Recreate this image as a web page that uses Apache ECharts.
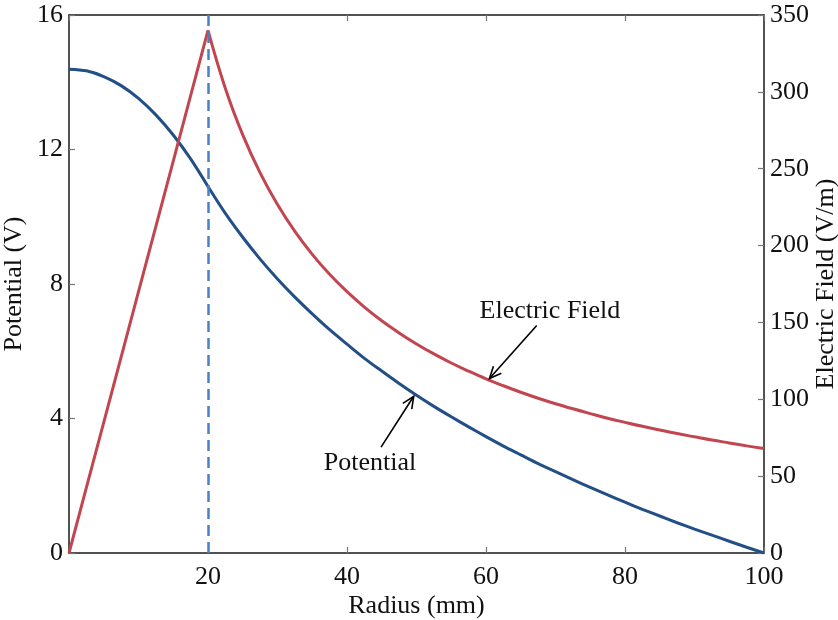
<!DOCTYPE html>
<html>
<head>
<meta charset="utf-8">
<script src="https://cdn.jsdelivr.net/npm/echarts@6/dist/echarts.min.js"></script>
<style>
  html, body { margin: 0; padding: 0; background: #fff; }
  #chart { width: 838px; height: 620px; }
</style>
</head>
<body>
<div id="chart"></div>
<script>
// Radius samples (mm)
const radius = [0, 2.5, 5, 7.5, 10, 12.5, 15, 17.5, 20, 22.5, 25, 27.5, 30, 32.5, 35, 37.5,
  40, 42.5, 45, 47.5, 50, 52.5, 55, 57.5, 60, 62.5, 65, 67.5, 70, 72.5, 75, 77.5,
  80, 82.5, 85, 87.5, 90, 92.5, 95, 97.5, 100];

// Potential (V)
const potential = [14.39, 14.34, 14.17, 13.90, 13.52, 13.03, 12.43, 11.72, 10.90, 10.10,
  9.39, 8.74, 8.15, 7.61, 7.11, 6.64, 6.21, 5.79, 5.41, 5.04, 4.69, 4.36, 4.05, 3.75,
  3.46, 3.18, 2.92, 2.66, 2.42, 2.18, 1.95, 1.73, 1.51, 1.30, 1.10, 0.90, 0.71, 0.53,
  0.35, 0.17, 0];

// Electric field (V/m)
const field = [0, 42.5, 85, 127.5, 170, 212.5, 255, 297.5, 340, 302.2, 272, 247.3, 226.7,
  209.2, 194.3, 181.3, 170, 160, 151.1, 143.2, 136, 129.5, 123.6, 118.3, 113.3, 108.8,
  104.6, 100.7, 97.1, 93.8, 90.7, 87.7, 85, 82.4, 80, 77.7, 75.6, 73.5, 71.6, 69.7, 68];

// Conductor boundary (mm)
const boundaryRadius = 20;

// Annotation labels: text anchor, arrow start and arrow tip in data units
const annotations = [
  { text: 'Electric Field', yAxis: 1, textAt: [69.2, 157.5], from: [67.3, 148], to: [60.5, 113.5] },
  { text: 'Potential', yAxis: 0, textAt: [43.3, 2.68], from: [44.9, 3.15], to: [49.6, 4.66] }
];

const FONT = '"Liberation Serif", "DejaVu Serif", serif';
const FS = 26;
const TXT = '#111';
const SPINE = '#1a1a1a';
const TICK = '#777';
const BLUE = '#234f87';
const RED = '#c1464f';

const chart = echarts.init(document.getElementById('chart'), null, { renderer: 'canvas' });

// Split at the boundary: straight inside, smooth outside
const kink = radius.indexOf(boundaryRadius);
const pairs = (ys) => radius.map((r, i) => [r, ys[i]]);
const potentialData = pairs(potential);
const fieldData = pairs(field);
const fieldInner = fieldData.slice(0, kink + 1);
const fieldOuter = fieldData.slice(kink);
const potentialInner = potentialData.slice(0, kink + 1);
const potentialOuter = potentialData.slice(kink);

const labelStyle = { fontFamily: FONT, fontSize: FS, color: TXT };
const tickStyle = { show: true, inside: true, length: 6, lineStyle: { color: TICK, width: 1.2 } };
const spineStyle = { show: true, onZero: false, lineStyle: { color: SPINE, width: 1.5 } };

chart.setOption({
  animation: false,
  backgroundColor: '#fff',
  grid: { left: 69, right: 74, top: 15, bottom: 67, containLabel: false, outerBoundsMode: 'none' },
  xAxis: [
    {
      type: 'value', min: 0, max: 100, interval: 20, position: 'bottom',
      name: 'Radius (mm)', nameLocation: 'middle', nameGap: 40, nameMoveOverlap: false,
      nameTextStyle: { fontFamily: FONT, fontSize: FS, color: TXT },
      axisLine: spineStyle, axisTick: tickStyle,
      axisLabel: Object.assign({ margin: 11, formatter: v => (v === 0 ? '' : String(v)) }, labelStyle),
      splitLine: { show: false }
    },
    {
      type: 'value', min: 0, max: 100, interval: 20, position: 'top',
      axisLine: spineStyle, axisTick: tickStyle,
      axisLabel: { show: false },
      splitLine: { show: false }
    }
  ],
  yAxis: [
    {
      type: 'value', min: 0, max: 16, interval: 4, position: 'left',
      name: 'Potential (V)', nameLocation: 'middle', nameGap: 42, nameRotate: 90, nameMoveOverlap: false,
      nameTextStyle: { fontFamily: FONT, fontSize: FS, color: TXT },
      axisLine: spineStyle, axisTick: tickStyle,
      axisLabel: Object.assign({ margin: 6 }, labelStyle),
      splitLine: { show: false }
    },
    {
      type: 'value', min: 0, max: 350, interval: 50, position: 'right',
      name: 'Electric Field (V/m)', nameLocation: 'middle', nameGap: 49, nameRotate: 90, nameMoveOverlap: false,
      nameTextStyle: { fontFamily: FONT, fontSize: FS, color: TXT },
      axisLine: spineStyle, axisTick: tickStyle,
      axisLabel: Object.assign({ margin: 6 }, labelStyle),
      splitLine: { show: false }
    }
  ],
  series: [
    {
      name: 'Potential', type: 'line', xAxisIndex: 0, yAxisIndex: 0,
      data: potentialInner, showSymbol: false, smooth: 0.3, z: 3,
      lineStyle: { color: BLUE, width: 3 },
      markLine: {
        silent: true, symbol: ['none', 'none'], label: { show: false },
        lineStyle: { color: '#4a80c4', width: 2.5, type: [11, 6] },
        data: [{ xAxis: boundaryRadius }]
      }
    },
    {
      name: 'Potential', type: 'line', xAxisIndex: 0, yAxisIndex: 0,
      data: potentialOuter, showSymbol: false, smooth: 0.3, z: 3,
      lineStyle: { color: BLUE, width: 3 }
    },
    {
      name: 'Electric Field', type: 'line', xAxisIndex: 0, yAxisIndex: 1,
      data: fieldInner, showSymbol: false, smooth: false, z: 4,
      lineStyle: { color: RED, width: 3, join: 'miter' }
    },
    {
      name: 'Electric Field', type: 'line', xAxisIndex: 0, yAxisIndex: 1,
      data: fieldOuter, showSymbol: false, smooth: 0.4, z: 4,
      lineStyle: { color: RED, width: 3 }
    }
  ]
});

// Annotations with open arrowheads, placed through the axes' own scales
function drawAnnotations() {
  const els = [];
  annotations.forEach((a, idx) => {
    const finder = { xAxisIndex: 0, yAxisIndex: a.yAxis };
    const t = chart.convertToPixel(finder, a.textAt);
    const p0 = chart.convertToPixel(finder, a.from);
    const p1 = chart.convertToPixel(finder, a.to);
    const ang = Math.atan2(p1[1] - p0[1], p1[0] - p0[0]);
    const hl = 13, spread = 0.42;
    const h1 = [p1[0] - hl * Math.cos(ang - spread), p1[1] - hl * Math.sin(ang - spread)];
    const h2 = [p1[0] - hl * Math.cos(ang + spread), p1[1] - hl * Math.sin(ang + spread)];
    els.push({
      type: 'text', id: 'ann-text-' + idx, x: t[0], y: t[1], z: 10,
      style: { text: a.text, fontFamily: FONT, fontSize: FS, fill: TXT, align: 'center', verticalAlign: 'middle' }
    });
    els.push({
      type: 'line', id: 'ann-line-' + idx, z: 10,
      shape: { x1: p0[0], y1: p0[1], x2: p1[0], y2: p1[1] },
      style: { stroke: '#000', lineWidth: 1.6 }
    });
    els.push({
      type: 'polyline', id: 'ann-head-' + idx, z: 10,
      shape: { points: [h1, p1, h2] },
      style: { stroke: '#000', lineWidth: 1.6, fill: null }
    });
  });
  chart.setOption({ graphic: els });
}
drawAnnotations();
</script>
</body>
</html>
